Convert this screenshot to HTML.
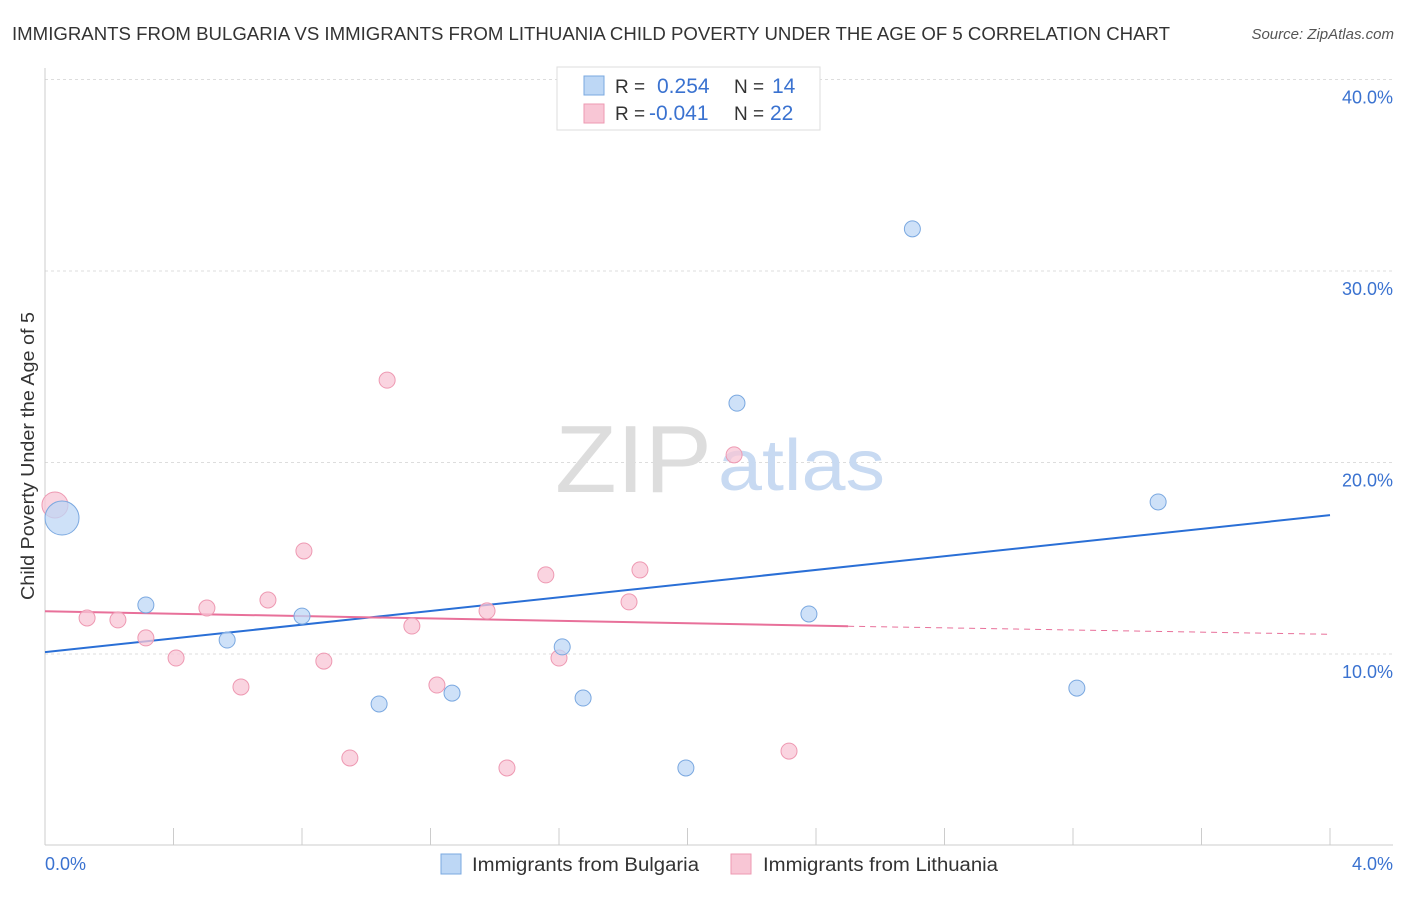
<!DOCTYPE html>
<html><head><meta charset="utf-8"><style>
body{margin:0;background:#fff;font-family:"Liberation Sans",sans-serif;}
svg text{font-family:"Liberation Sans",sans-serif;}
</style></head><body>
<svg id="c" width="1406" height="892" viewBox="0 0 1406 892" xmlns="http://www.w3.org/2000/svg">
<text x="12" y="40" font-size="18" fill="#333" textLength="1158" lengthAdjust="spacingAndGlyphs">IMMIGRANTS FROM BULGARIA VS IMMIGRANTS FROM LITHUANIA CHILD POVERTY UNDER THE AGE OF 5 CORRELATION CHART</text>
<text x="1394" y="39" font-size="15" fill="#555" font-style="italic" text-anchor="end">Source: ZipAtlas.com</text>
<g id="grid"></g>
<text x="555" y="492" font-size="96" fill="#ddd" font-family="Liberation Serif" textLength="157" lengthAdjust="spacingAndGlyphs">ZIP</text>
<text x="718" y="490" font-size="72" fill="#c8daf2" textLength="167" lengthAdjust="spacingAndGlyphs">atlas</text>
<g id="axes"></g>
<g id="lines"></g>
<g id="pts"></g>
<text transform="translate(34,456) rotate(-90)" font-size="18" fill="#333" text-anchor="middle" textLength="288" lengthAdjust="spacingAndGlyphs">Child Poverty Under the Age of 5</text>
<text x="45" y="870" font-size="18" fill="#3a72d0">0.0%</text>
<text x="1393" y="870" font-size="18" fill="#3a72d0" text-anchor="end">4.0%</text>
<g>
<rect x="557" y="67" width="263" height="63" fill="#fff" stroke="#ddd"/>
<rect x="584" y="76" width="20" height="19" fill="#bdd7f5" stroke="#7aa8e0"/>
<rect x="584" y="104" width="20" height="19" fill="#f8c6d5" stroke="#ee99b2"/>
<text x="615" y="93" font-size="19" fill="#333">R =</text>
<text x="657" y="93" font-size="21" fill="#3a72d0">0.254</text>
<text x="734" y="93" font-size="19" fill="#333">N =</text>
<text x="772" y="93" font-size="21" fill="#3a72d0">14</text>
<text x="615" y="120" font-size="19" fill="#333">R =</text>
<text x="649" y="120" font-size="21" fill="#3a72d0">-0.041</text>
<text x="734" y="120" font-size="19" fill="#333">N =</text>
<text x="770" y="120" font-size="21" fill="#3a72d0">22</text>
</g>
<g>
<rect x="441" y="854" width="20" height="20" fill="#bdd7f5" stroke="#7aa8e0"/>
<text x="472" y="871" font-size="19" fill="#333" textLength="227" lengthAdjust="spacingAndGlyphs">Immigrants from Bulgaria</text>
<rect x="731" y="854" width="20" height="20" fill="#f8c6d5" stroke="#ee99b2"/>
<text x="763" y="871" font-size="19" fill="#333" textLength="235" lengthAdjust="spacingAndGlyphs">Immigrants from Lithuania</text>
</g>
</svg>
<script>
const yTicks=[10,20,30,40];
const yTickLabels=["10.0%","20.0%","30.0%","40.0%"];
const xTicks=[0,0.4,0.8,1.2,1.6,2.0,2.4,2.8,3.2,3.6,4.0];
const bulgariaX=[0.053,0.314,0.567,0.80,1.04,1.267,1.61,1.675,1.995,2.154,2.378,2.70,3.212,3.465];
const bulgariaY=[17.1,12.56,10.73,11.98,7.39,7.96,10.37,7.70,4.05,23.1,12.09,32.2,8.22,17.94];
const bulgariaR=[17,8,8,8,8,8,8,8,8,8,8,8,8,8];
const lithuaniaX=[0.031,0.131,0.227,0.314,0.408,0.504,0.61,0.694,0.806,0.868,0.949,1.065,1.142,1.22,1.376,1.438,1.559,1.60,1.818,1.852,2.145,2.316];
const lithuaniaY=[17.78,11.88,11.78,10.84,9.79,12.40,8.28,12.82,15.38,9.63,4.57,24.3,11.46,8.38,12.25,4.05,14.13,9.79,12.72,14.39,20.4,4.93];
const lithuaniaR=[13,8,8,8,8,8,8,8,8,8,8,8,8,8,8,8,8,8,8,8,8,8];
const bulgariaTrend=[10.1,17.25];
const lithuaniaTrend=[12.23,11.45,11.03];
const lithuaniaTrendX=[0,2.5,4.0];
const NS="http://www.w3.org/2000/svg";
const xs=v=>45+v/4*1285;
const ys=v=>654-(v-10)*19.15;
function mk(t,a,p){const e=document.createElementNS(NS,t);for(const k in a)e.setAttribute(k,a[k]);document.getElementById(p).appendChild(e);return e;}
yTicks.forEach((t,i)=>{
 const l=mk('line',{x1:45,x2:1393,y1:ys(t),y2:ys(t),stroke:'#ddd','stroke-dasharray':'3,3'},'grid');
 
 
 const tx=mk('text',{x:1393,y:ys(t)+24,'font-size':18,fill:'#3a72d0','text-anchor':'end'},'grid');
 tx.textContent=yTickLabels[i];
 
 
});
const ax=mk('line',{x1:45,x2:45,y1:68,y2:845,stroke:'#ccc'},'axes');


const bx=mk('line',{x1:45,x2:1393,y1:845,y2:845,stroke:'#ccc'},'axes');


xTicks.forEach(t=>{
 const l=mk('line',{x1:xs(t),x2:xs(t),y1:828,y2:845,stroke:'#ccc'},'axes');
 
 
});
const bl=mk('line',{x1:xs(0),x2:xs(4),y1:ys(bulgariaTrend[0]),y2:ys(bulgariaTrend[1]),stroke:'#2a6fd6','stroke-width':2},'lines');


const pl=mk('line',{x1:xs(lithuaniaTrendX[0]),x2:xs(lithuaniaTrendX[1]),y1:ys(lithuaniaTrend[0]),y2:ys(lithuaniaTrend[1]),stroke:'#e8709a','stroke-width':2},'lines');


const pd=mk('line',{x1:xs(lithuaniaTrendX[1]),x2:xs(lithuaniaTrendX[2]),y1:ys(lithuaniaTrend[1]),y2:ys(lithuaniaTrend[2]),stroke:'#e8709a','stroke-width':1,'stroke-dasharray':'6,5'},'lines');


lithuaniaX.forEach((x,i)=>{
 const c=mk('circle',{cx:xs(x),cy:ys(lithuaniaY[i]),r:lithuaniaR[i],fill:'#f8c6d5','fill-opacity':0.75,stroke:'#ee99b2'},'pts');
 
 
});
bulgariaX.forEach((x,i)=>{
 const c=mk('circle',{cx:xs(x),cy:ys(bulgariaY[i]),r:bulgariaR[i],fill:'#bdd7f5','fill-opacity':0.75,stroke:'#7aa8e0'},'pts');
 
 
});
</script>
</body></html>
